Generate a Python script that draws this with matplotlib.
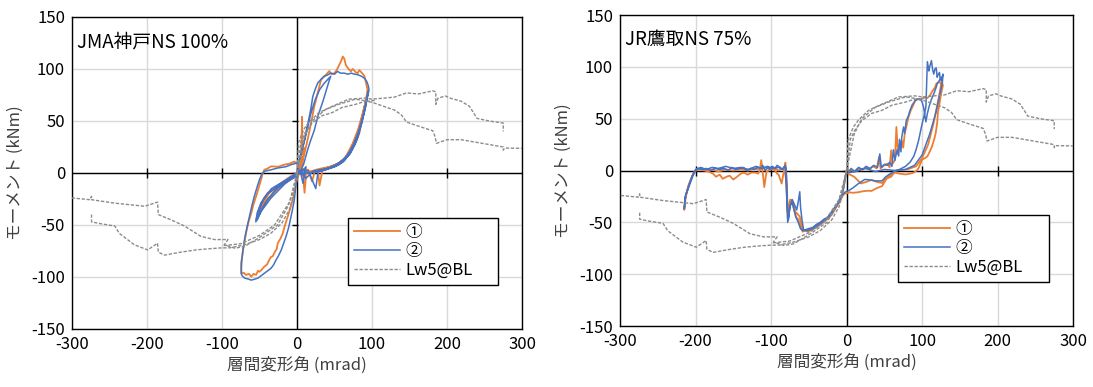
import matplotlib.pyplot as plt

plt.rcParams['font.family'] = ['Noto Sans CJK JP', 'DejaVu Sans']
plt.rcParams['axes.unicode_minus'] = False

# ---- JMA神戸NS 100% : 試験体① ----
kobe_1_x = [0, 3, 5, 6.7, 7.5, 10, 6, -4, -17, -30, -40, -48, -54.6, -51, -48, -39, -26, -12, 0,
            5.3, 9.8, 14, 18.7, 23, 27.6, 32, 38.7, 43, 46, 49.8, 53, 56.4, 59, 61, 63, 65, 67.6, 70, 72,
            74, 76, 78, 81, 83, 85, 88, 90, 92, 94,
            92, 87.5, 81, 74, 65, 54, 36, 18.7, 8, 10, 12, 3,
            0, -3, -5.8, -9, -12.4, -16, -19, -22, -25.7, -27, -29.3, -32.4, -35, -37, -40, -43.5, -46, -50,
            -52, -54.6, -58, -61, -64, -68, -71, -73.7, -74.6, -74.6, -73, -72, -70, -68, -65, -61, -58,
            -54.6, -51, -48, -45.5, -43.5, -40, -34.6, -25, -17, -10, -3.6, 0,
            6, 15, 20, 24, 35, 45, 55, 65, 72, 78, 84, 88, 92, 95, 93, 89, 84, 78, 70, 60, 45, 34, 30, 28,
            40, 52, 62, 70, 76, 82, 86, 83, 77, 68, 56, 42, 32, 45, 58, 67, 74, 79, 76, 69, 58, 45, 30, 20,
            10, 0, -10, -25, -38, -45, -50, -46, -38, -22, -8, 0]
kobe_1_y = [0, 4, 1, 54, 18, 24, 2, -3, -10, -18, -27, -36, -45, -36, -29, -19, -13, -8, -2,
            9, 18.7, 31.6, 47.7, 64, 76.8, 89.7, 94.5, 98, 95, 96, 99, 104, 108, 112, 110, 104, 101, 99, 97.7,
            100, 99, 97, 96, 99, 97.4, 95, 93, 86.5, 80,
            70, 57, 41, 28, 15.5, 7.4, 2.6, 1, -2, -19, -3, 0,
            -6, -16, -25.7, -34, -42, -50, -58, -63, -67.5, -73, -75.6, -80, -81, -83.6, -88, -90, -92, -95,
            -94, -98, -97, -99.7, -97, -98, -96, -96.5, -91.6, -86.8, -80, -74, -66, -58, -48, -38.6, -30,
            -22.5, -14, -6.4, 0, 3.2, 4, 6.4, 6, 8, 9, 11, 9,
            4, 3, -8, 2, 4, 6, 9, 14, 22, 32, 45, 58, 70, 78, 73, 58, 44, 30, 18, 10, 5, 3, -12, 2,
            5, 8, 13, 20, 30, 40, 48, 38, 27, 17, 9, 5, 3, 6, 10, 16, 25, 34, 27, 18, 10, 6, 4, 2,
            0, -1, -5, -14, -24, -32, -40, -30, -20, -10, -3, 0]

# ---- JMA神戸NS 100% : 試験体② ----
kobe_2_x = [0, 4, 8, 12, 6, -5, -17, -34.6, -48, -55, -53, -48, -39, -26, -12.4, 0,
            3, 6, 9.8, 13, 16.4, 19, 21, 24, 27.6, 32, 36, 40, 45, 50, 54, 58, 63, 68, 72, 77, 81, 86, 90,
            93, 95, 96,
            94, 91, 86, 80, 72, 62, 50, 41, 30, 22, 12, 5,
            0, -3.6, -6, -8, -11, -14.6, -18, -21, -25, -28, -31, -34.6, -39, -43.5, -48, -52, -56, -61, -65,
            -70, -73, -74.6, -74, -73.7, -72, -70, -67, -63.5, -60, -57, -53, -50, -47, -43.5, -35, -25.7,
            -15, -8, 0,
            3, 8, 13, 18, 24, 30, 36, 41, 45, 43, 35, 28, 23, 18, 14, 9, 5,
            15, 25, 28, 40, 52, 62, 70, 76, 82, 87, 91, 94, 95, 92, 88, 83, 77, 70, 60, 48, 36, 44, 56, 64,
            72, 78, 83, 80, 74, 65, 55, 43, 50, 60, 68, 75, 80, 77, 71, 62, 50, 38, 26, 14, 0,
            -12, -28, -40, -48, -53, -50, -44, -34, -20, -6, 0]
kobe_2_y = [0, 3, -10, 6, 1, -4, -11, -24, -37, -47, -38, -29, -20, -13, -8, -3,
            12, 22, 31.6, 43, 54, 64, 73.5, 80, 86.5, 90, 93, 94, 96, 95, 97.7, 96, 96, 95, 96, 95, 94.5, 93, 91,
            88, 84, 80,
            73.5, 62, 48, 33, 20, 11, 6, 4.5, 3, 2, -5, 1,
            -2, -25.7, -35, -42, -52, -61, -68, -74, -80, -83.6, -88, -91.6, -94, -96.5, -99, -101, -102, -103,
            -102, -101, -99, -96.5, -90, -83.6, -74, -64, -53, -41.8, -31, -22.5, -13, -6.4, -1, 1.6, 3, 4.8,
            6, 8, 9.6,
            12, 25, 40, 56, 70, 80, 86, 90, 93, 89, 70, 55, 41, 31, 22, 9, 2,
            2, -15, 1, 4, 7, 12, 18, 26, 37, 50, 63, 74, 79, 68, 55, 42, 30, 20, 11, 6, 3, 5, 8, 13,
            21, 30, 40, 32, 23, 15, 9, 5, 7, 11, 17, 26, 35, 28, 20, 12, 6, 3, 1, 0, 0,
            -6, -16, -26, -36, -45, -35, -24, -15, -9, -3, 0]

# ---- JR鷹取NS 75% : 試験体① ----
tak_1_x = [0, -3, -6, -11, -20, -29, -38, -45, -52, -58, -62, -66, -68, -71, -75, -78, -79, -81, -82,
           -86, -90, -92, -96, -99, -103, -106, -109, -110, -113, -115, -117, -121, -126, -131, -136, -140,
           -145, -150, -155, -159, -164, -168, -173, -177, -182, -188, -194, -200, -203, -207, -210, -214,
           -215,
           -213, -209, -204, -199, -192, -185, -178, -170, -160, -150, -140, -130, -122, -115, -108, -100,
           -95, -90, -85, -82, -80, -78, -76, -74, -72, -70, -67, -64, -61, -58, -54, -50, -45, -40, -35,
           -30, -25, -20, -15, -11, -6, -2, 0, 4, 8, 15, 22, 28, 33, 40, 47, 52, 55.5, 60, 64, 70, 78, 84,
           89, 93, 95.5, 100, 104, 107, 110, 113, 116, 118, 120, 121, 123, 124.4, 126, 127.6, 126,
           122, 115, 108, 100, 92, 80, 65,
           59, 52, 47, 40, 33, 26, 19, 10, 2,
           5, 10, 15, 20, 25, 30, 35, 40, 43, 45, 50, 54, 57, 59, 61, 64, 66, 68, 70, 73, 75, 77, 80, 82,
           85, 87, 91, 95, 98, 103, 107, 110, 114, 117, 119, 122, 124, 126]
tak_1_y = [0, -10, -25, -32, -43, -49, -54, -57, -59, -57, -44.5, -41, -40, -30, -28.5, -41, -16, 7.7, 3.5,
           -12.5, -4, -3, 1, 2, 0, -1, -16, -9, 10, 0, -3, -2, -2, -4, -2, -3,
           -6, -8.7, -5, -6, -8, -4, -6, -3, -1.3, 0, 1, 0, -3, -10, -15.7, -28.5,
           -38,
           -25, -14, -5, 1, 2, 0, 1, -1, 1, 0, 1, 0, 2, 1, 3, 1,
           2, 0, 2, 1, -10, -46, -36, -28, -32, -36, -45, -47, -55, -59, -58, -57, -56, -53, -51,
           -48, -46, -41, -36, -32, -25, -22, -22, -21, -21.5, -21, -20, -19.5, -19.7, -17, -15, -9, -5.4,
           -3, -2, -3, -3.8, -3,
           -2, 0, 2.5, 10.5, 12, 13.7, 18, 23, 30, 36, 46, 56.5, 64, 71, 77, 82, 86,
           70, 45, 25, 12, 4, 1, 0,
           -6, -8, -12, -11, -9, -11, -12.5, -6, -3,
           1, -1, 2, 0, 3, 1, 4, 2, 13, 2, 5, 6.7, 3, 19.5, 6.7, 10, 42, 16, 25, 29, 22, 35.6, 45, 51.6,
           58, 61, 67.6, 69, 68, 71, 70, 72, 77, 80, 84, 85, 85, 82]

# ---- JR鷹取NS 75% : 試験体② ----
tak_2_x = [0, -3, -6, -11, -20, -29, -38, -45, -52, -57, -59, -61, -62, -64, -66, -69, -72, -75, -78,
           -79, -80, -82, -85, -88, -92, -95, -98, -101, -104, -108, -111, -114, -118, -122, -127, -132,
           -137, -142, -147, -152, -157, -162, -168, -174, -180, -186, -192, -197, -200, -203, -207, -211,
           -213, -215,
           -214, -210, -205, -200, -193, -186, -178, -170, -160, -150, -140, -130, -120, -112, -105, -97,
           -90, -85, -81, -79, -77, -75, -72, -70, -67, -64, -61, -58, -54, -50, -45, -40, -35, -30, -25,
           -20, -15, -11, -6, -2, 0, 2, 8, 15, 24, 30, 38, 46.7, 52, 58, 64, 70, 78, 84, 89, 92, 95.5, 98,
           100, 103, 105, 107, 109, 110, 112.4, 114, 115.5, 117, 118.7, 120, 121, 123, 124, 126, 127.6, 127,
           124, 118, 110, 100, 90, 78, 65, 50, 38, 25, 12, 3,
           6, 11, 16, 21, 26, 31, 36, 41, 44, 46, 50, 54, 57, 60, 62, 64, 67, 69, 70, 72, 73, 75.5, 77, 79,
           82, 84, 86.7, 91, 95, 98, 100, 102, 105, 107, 109, 112, 115.5, 118, 120, 123, 126]
tak_2_y = [0, -12, -24, -31, -42, -48, -53, -56, -58, -57, -48, -35, -20.5, -30, -38, -33, -28, -35, -50,
           -20, 2, 4, 1, 3, 5, 2, 4, 1, 3, 0, 5, 2, 3, 1, 2, 0,
           3, 2, 1, 3, 0, 2, 1, 2, 0, 2, 1, 2, 0, -4, -12, -20,
           -23, -37,
           -26, -17, -6, 1, 3, 1, 3, 2, 4, 2, 3, 1, 4, 2, 4, 2,
           3, 1, 5, -30, -48, -34, -30, -37, -45, -50, -56, -58, -57, -56, -55, -52, -50, -47, -45,
           -40, -35, -31, -24, -21, -20, -19.7, -17, -13, -8.6, -9, -10, -10, -6, -3, -0.6, 1, 4, 8, 13.7,
           20, 29.5, 38,
           45, 54, 61, 105, 96, 100, 106, 97, 93, 98, 99, 90, 92, 94.6, 88, 86.7, 93, 86,
           75, 55, 35, 15, 5, 1, 0, 1, -1, 2, -1, -2,
           2, -1, 3, 1, 4, 2, 5, 3, 16, 3, 6, 5, 8, 4, 20, 10, 20, 14, 30, 18, 32, 42, 36, 48,
           53, 58, 63, 67.6, 69, 69, 66, 61, 47, 55, 61, 68, 74, 79, 83.5, 87, 90]

# ---- Lw5@BL 解析結果（両図共通）----
lw5_a_x = [0, 2, 9, 15.6, 29, 46.7, 69, 91, 100, 116, 130, 146, 162, 181, 185, 185, 188, 198, 204,
           219, 230, 240, 256, 275, 275]
lw5_a_y = [0, 29.5, 42, 48.6, 58, 64, 71, 72, 71, 72, 73, 77, 76, 79, 78, 66, 72, 74, 72,
           69, 64, 52.5, 50, 48, 40]
lw5_b_x = [0, 5, 11, 20, 33, 46.7, 60, 78, 91, 100, 116, 130, 139, 146, 162, 181, 184, 186, 200,
           219, 247, 275, 275, 277, 300]
lw5_b_y = [0, 30, 39, 48, 55, 58, 63, 66, 69, 68, 64, 60.5, 56, 49, 45, 40.6, 35, 28.5, 32,
           32, 28.5, 25, 22, 24, 23.7]
lw5_c_x = [0, 10, 20, 38, 55.5, 78, 95.5, 105]
lw5_c_y = [0, 35, 50, 61, 66, 71, 69, 70]
lw5_d_x = [0, -4, -10, -20, -35, -50, -70, -90, -101, -120, -135, -154, -177, -185, -186, -199, -217,
           -237, -243, -260, -274, -274]
lw5_d_y = [0, -20, -35, -48, -58, -64, -69, -72, -72, -73, -74, -76, -79, -76, -67.5, -74, -69,
           -58, -51, -49, -47, -40]
lw5_e_x = [0, -5, -12, -26, -48, -70, -83, -97, -92, -110, -128, -150, -168, -185, -186, -203, -243,
           -274, -274, -276, -300]
lw5_e_y = [0, -18, -32, -50, -61, -70.7, -72.3, -69, -64, -64, -61, -51, -45, -40, -28, -32, -29,
           -25.7, -22.5, -25.7, -24]
lw5_f_x = [0, -10, -30, -50, -75, -100]
lw5_f_y = [0, -28, -50, -60, -68, -70]

x_ticks = [-300, -200, -100, 0, 100, 200, 300]
y_ticks = [-150, -100, -50, 0, 50, 100, 150]

lw5_branches = [(lw5_a_x, lw5_a_y), (lw5_b_x, lw5_b_y), (lw5_c_x, lw5_c_y),
                (lw5_d_x, lw5_d_y), (lw5_e_x, lw5_e_y), (lw5_f_x, lw5_f_y)]


def draw_panel(ax, title, x1, y1, x2, y2):
    ax.plot(x1, y1, color='#ED7D31', lw=1.3, label='①', zorder=3)
    ax.plot(x2, y2, color='#4472C4', lw=1.1, label='②', zorder=4)
    for i, (bx, by) in enumerate(lw5_branches):
        ax.plot(bx, by, color='#8C8C8C', lw=1.0, dashes=(2.4, 1.2), zorder=5,
                label='Lw5@BL' if i == 0 else None)

    ax.set_xlim(-300, 300)
    ax.set_ylim(-150, 150)
    ax.set_xticks(x_ticks)
    ax.set_yticks(y_ticks)
    ax.grid(True, color='#D9D9D9', lw=1.0, zorder=0)
    ax.tick_params(length=0, labelsize=12, pad=5, colors='black')
    for sp in ax.spines.values():
        sp.set_color('black')
        sp.set_linewidth(1.0)

    # 0 の位置の軸線と目盛
    ax.axhline(0, color='black', lw=1.0, zorder=2)
    ax.axvline(0, color='black', lw=1.0, zorder=2)
    ax.plot(x_ticks[1:-1], [0] * (len(x_ticks) - 2), ls='none', marker='|', ms=7,
            mew=1.0, color='black', zorder=2)
    ax.plot([-2.5] * (len(y_ticks) - 2), y_ticks[1:-1], ls='none', marker='_', ms=5,
            mew=1.0, color='black', zorder=2)

    ax.text(0.012, 0.955, title, transform=ax.transAxes, fontsize=13.5, va='top', ha='left')
    ax.set_xlabel('層間変形角 (mrad)', fontsize=12, color='#404040', labelpad=3)
    ax.set_ylabel('モーメント (kNm)', fontsize=12, color='#404040', labelpad=5)

    leg = ax.legend(loc='upper left', bbox_to_anchor=(0.613, 0.0, 0.334, 0.356), mode='expand',
                    fontsize=12, frameon=True, fancybox=False, edgecolor='black', framealpha=1,
                    handlelength=2.8, handletextpad=0.3, labelspacing=0.12,
                    borderpad=0.35, borderaxespad=0)
    leg.get_frame().set_linewidth(1.0)


fig = plt.figure(figsize=(10.93, 3.87), dpi=100)
ax1 = fig.add_axes([0.0659, 0.1499, 0.4117, 0.8062])
ax2 = fig.add_axes([0.5673, 0.1576, 0.4145, 0.8036])

draw_panel(ax1, 'JMA神戸NS 100%', kobe_1_x, kobe_1_y, kobe_2_x, kobe_2_y)
draw_panel(ax2, 'JR鷹取NS 75%', tak_1_x, tak_1_y, tak_2_x, tak_2_y)

fig.savefig('out.png', dpi=100)
